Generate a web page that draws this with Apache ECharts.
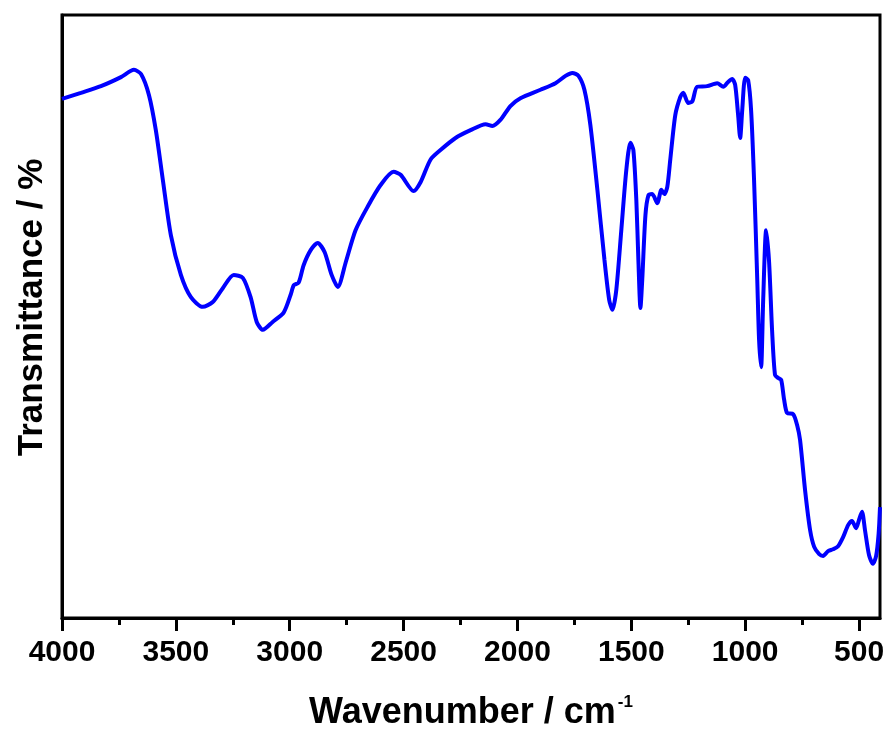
<!DOCTYPE html>
<html>
<head>
<meta charset="utf-8">
<script src="https://cdn.jsdelivr.net/npm/echarts@6/dist/echarts.min.js"></script>
<style>html,body{margin:0;padding:0;background:#fff}#c{width:888px;height:730px}</style>
</head>
<body>
<div id="c"></div>
<script>
const wavenumber = [4000,3917,3829,3741,3684,3653,3618,3588,3557,3522,3478,3434,3382,3338,3294,3246,3206,3171,3145,3118,3075,3026,2996,2982,2961,2939,2908,2877,2847,2816,2789,2754,2711,2658,2601,2544,2513,2456,2425,2382,2338,2272,2206,2140,2110,2075,2031,1987,1899,1833,1789,1759,1732,1706,1680,1649,1618,1597,1583,1566,1544,1522,1504,1491,1478,1469,1460,1452,1438,1425,1408,1386,1368,1355,1342,1329,1307,1285,1272,1250,1232,1211,1167,1123,1096,1075,1057,1044,1031,1022,1013,1000,987,974,961,947,939,930,921,908,895,882,869,855,842,829,816,789,772,759,737,715,697,675,658,636,614,592,570,548,531,513,500,487,474,456,439,425,414,408];
const transmittance = [86.1,87.1,88.2,89.7,90.9,90.2,86.7,80.9,72.6,63.5,56.9,53.2,51.6,52.4,54.7,56.9,56.4,53.1,49.1,47.8,49.1,50.7,53.6,55.2,55.6,58.5,61.0,62.2,60.7,56.9,54.9,59.0,64.3,68.2,71.8,74.0,73.5,70.8,72.3,76.0,77.6,79.6,80.9,81.9,81.6,82.6,84.9,86.2,87.6,88.7,89.9,90.4,89.9,87.6,81.8,71.0,59.4,52.7,51.1,54.4,64.3,74.3,78.8,77.6,69.3,59.4,51.4,56.1,66.8,70.1,70.3,68.8,71.0,70.3,71.5,76.0,83.4,86.4,87.1,85.4,85.7,88.1,88.2,88.7,88.1,88.9,89.4,88.4,83.4,79.6,84.2,89.6,89.2,84.2,72.6,56.1,46.1,41.6,52.7,64.3,59.0,47.8,40.3,39.8,39.5,36.2,34.0,33.8,32.0,29.5,21.2,14.6,11.8,10.6,10.3,11.1,11.4,11.9,13.4,15.4,16.1,14.9,16.3,17.6,14.6,10.4,9.0,10.3,14.0,18.4];
const majorTicks = [4000,3500,3000,2500,2000,1500,1000,500];
const minorTicks = [3750,3250,2750,2250,1750,1250,750];
const xTitle = 'Wavenumber / cm';
const xTitleSup = '-1';
const yTitle = 'Transmittance / %';

const data = wavenumber.map((w,i)=>[w, transmittance[i]]);
const chart = echarts.init(document.getElementById('c'), null, {renderer:'canvas'});
const FONT = '"Liberation Sans", Arial, sans-serif';
chart.setOption({
  animation:false,
  backgroundColor:'#fff',
  grid:{left:62,right:8,top:15,bottom:112,show:true,borderColor:'#000',borderWidth:3,backgroundColor:'transparent',outerBoundsMode:'none',containLabel:false},
  xAxis:[{
    type:'value', inverse:true, min:408, max:4000,
    axisLine:{show:true,lineStyle:{color:'#000',width:3}},
    axisTick:{show:true,inside:false,length:13,lineStyle:{color:'#000',width:3},customValues:majorTicks},
    axisLabel:{show:true,customValues:majorTicks,margin:20,fontFamily:FONT,fontWeight:'bold',fontSize:30,color:'#000',formatter:(v)=>String(v)},
    splitLine:{show:false},
    name:'{a|'+xTitle+'}{b|'+xTitleSup+'}',
    nameLocation:'middle', nameGap:76,
    nameTextStyle:{rich:{
      a:{fontFamily:FONT,fontWeight:'bold',fontSize:36,color:'#000'},
      b:{fontFamily:FONT,fontWeight:'bold',fontSize:17,color:'#000',verticalAlign:'top',padding:[0,0,22,2]}
    }}
  },{
    type:'value', inverse:true, min:408, max:4000, position:'bottom', offset:0,
    axisLine:{show:false},
    axisTick:{show:true,inside:false,length:7,lineStyle:{color:'#000',width:3},customValues:minorTicks},
    axisLabel:{show:false},
    splitLine:{show:false}
  }],
  yAxis:{
    type:'value', min:0, max:100,
    axisLine:{show:true,lineStyle:{color:'#000',width:3}},
    axisTick:{show:false}, axisLabel:{show:false}, splitLine:{show:false},
    name:yTitle, nameLocation:'middle', nameGap:12,
    nameTextStyle:{fontFamily:FONT,fontWeight:'bold',fontSize:35,color:'#000',padding:[0,0,0,18]}
  },
  series:[{
    type:'line', xAxisIndex:0, data:data, showSymbol:false, smooth:0.25,
    lineStyle:{color:'#0000ff',width:4}
  }]
});
</script>
</body>
</html>
